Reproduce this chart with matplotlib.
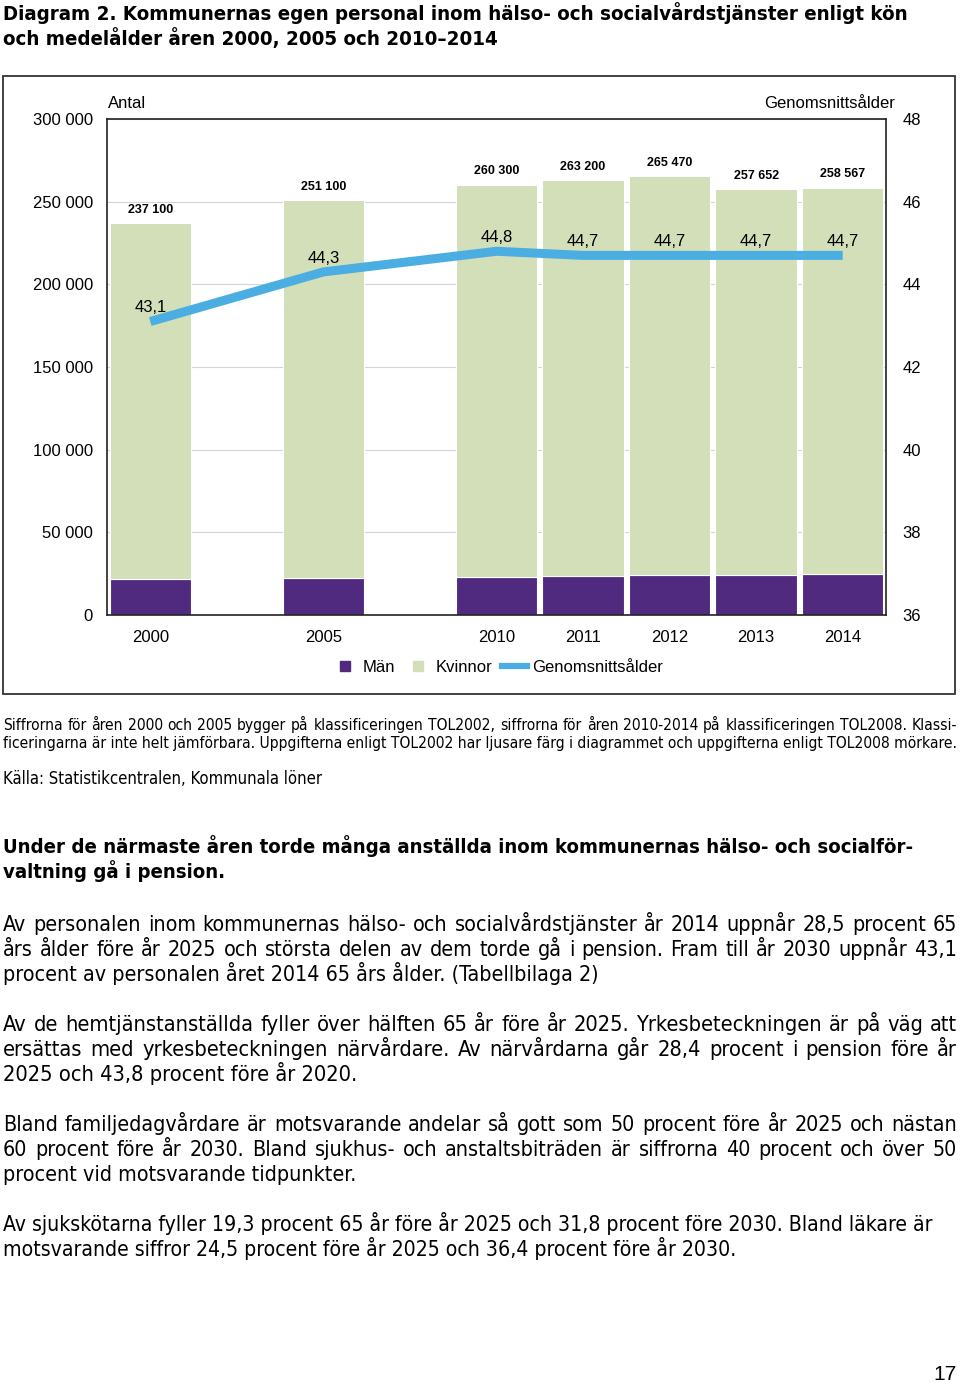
import matplotlib
matplotlib.use('Agg')
import matplotlib.pyplot as plt
from matplotlib import font_manager as fm
from matplotlib.lines import Line2D
from matplotlib.patches import Rectangle
import os

# ---------------- data ----------------
years = ['2000', '2005', '2010', '2011', '2012', '2013', '2014']
totals = [237100, 251100, 260300, 263200, 265470, 257652, 258567]
men = [21800, 22400, 23200, 23400, 24200, 24400, 25000]
avg_age = [43.1, 44.3, 44.8, 44.7, 44.7, 44.7, 44.7]
left_ticks = [0, 50000, 100000, 150000, 200000, 250000, 300000]
right_ticks = [36, 38, 40, 42, 44, 46, 48]
series_names = ['Män', 'Kvinnor', 'Genomsnittsålder']

women = [t - m for t, m in zip(totals, men)]

# category slots: leave an empty slot where years are skipped
pos = []
p = 0
for i, y in enumerate(years):
    if i > 0:
        p += 1 if int(y) - int(years[i - 1]) == 1 else 2
    pos.append(p)

# ---------------- fonts ----------------
def has_font(name):
    try:
        fm.findfont(fm.FontProperties(family=name), fallback_to_default=False)
        return True
    except Exception:
        return False

SANS = 'Liberation Sans' if has_font('Liberation Sans') else 'DejaVu Sans'
plt.rcParams['font.family'] = [SANS, 'DejaVu Sans']

# look for a narrow / condensed face for the page text
all_files = [f.fname for f in fm.fontManager.ttflist]

def find_file(keys_regular, keys_bold):
    reg = bold = None
    for pattern in keys_regular:
        for f in all_files:
            if os.path.basename(f).lower() == pattern.lower():
                reg = f
                break
        if reg:
            break
    for pattern in keys_bold:
        for f in all_files:
            if os.path.basename(f).lower() == pattern.lower():
                bold = f
                break
        if bold:
            break
    return reg, bold

NARROW_REG, NARROW_BOLD = find_file(
    ['LiberationSansNarrow-Regular.ttf', 'DejaVuSansCondensed.ttf'],
    ['LiberationSansNarrow-Bold.ttf', 'DejaVuSansCondensed-Bold.ttf'])

def page_font(size, weight):
    path = NARROW_BOLD if weight == 'bold' else NARROW_REG
    if path:
        return dict(fontproperties=fm.FontProperties(fname=path, size=size))
    return dict(family=[SANS, 'DejaVu Sans'], fontsize=size, fontweight=weight)

PURPLE = '#4F2A7F'
GREEN = '#D2DFB8'
BLUE = '#4BAEE3'

W, H = 960, 1383
fig = plt.figure(figsize=(W / 100, H / 100), dpi=100)

def fx(x):
    return x / W

def fy(y):
    return 1 - y / H

# ---------------- chart ----------------
ax = fig.add_axes([fx(107), fy(615), (886 - 107) / W, (615 - 119) / H])
ax.set_xlim(-0.5, 8.5)
ax.set_ylim(0, 300000)
ax.bar(pos, men, width=0.94, color=PURPLE, edgecolor='white', linewidth=0.8, zorder=2)
ax.bar(pos, women, bottom=men, width=0.94, color=GREEN, edgecolor='white', linewidth=0.8, zorder=2)
ax.set_axisbelow(True)
ax.yaxis.grid(True, color='#d4d4d4', lw=0.8)
ax.set_yticks(left_ticks)
ax.set_yticklabels([f'{v:,}'.replace(',', ' ') for v in left_ticks], fontsize=12)
ax.set_xticks(pos)
ax.set_xticklabels(years, fontsize=12)
ax.tick_params(axis='y', length=0, pad=10)
ax.tick_params(axis='x', length=0, pad=11)
for s in ax.spines.values():
    s.set_color('#222222')
    s.set_linewidth(1.2)

for x, t in zip(pos, totals):
    ax.annotate(f'{t:,}'.replace(',', ' '), (x, t), xytext=(0, 9.5),
                textcoords='offset points', ha='center', va='center',
                fontsize=9, fontweight='bold')

ax2 = ax.twinx()
ax2.set_ylim(36, 48)
ax2.set_yticks(right_ticks)
ax2.set_yticklabels([str(v) for v in right_ticks], fontsize=12)
ax2.tick_params(axis='y', length=0, pad=12)
for s in ax2.spines.values():
    s.set_visible(False)
ax2.plot(pos, avg_age, color=BLUE, lw=6.5, solid_capstyle='butt',
         solid_joinstyle='round', zorder=3)
for x, a in zip(pos, avg_age):
    ax2.annotate(f'{a:.1f}'.replace('.', ','), (x, a), xytext=(0, 10),
                 textcoords='offset points', ha='center', va='center', fontsize=12)

fig.text(fx(108), fy(103), 'Antal', ha='left', va='center', fontsize=12)
fig.text(fx(895), fy(103), 'Genomsnittsålder', ha='right', va='center', fontsize=12)

handles = [Line2D([], [], marker='s', ls='none', markersize=7, color=PURPLE),
           Line2D([], [], marker='s', ls='none', markersize=7, color=GREEN),
           Line2D([], [], color=BLUE, lw=4.5)]
fig.legend(handles, series_names, loc='center', bbox_to_anchor=(fx(498), fy(667)),
           ncol=3, frameon=False, fontsize=12, handlelength=1.5,
           handletextpad=0.3, columnspacing=0.6, borderpad=0)

fig.add_artist(Rectangle((fx(3), fy(694)), (955 - 3) / W, (694 - 76) / H,
                         transform=fig.transFigure, fill=False, ec='#333333', lw=1.3))

# ---------------- text ----------------
renderer = fig.canvas.get_renderer()

def text_width(s, kw):
    t = fig.text(0, 0, s, **kw)
    w = t.get_window_extent(renderer).width
    t.remove()
    return w

def draw_block(lines, y0, dy, size, weight='normal', x0=3, x1=957, max_right=None):
    # lines: list of (text, justify)
    limit = (max_right if max_right else x1) - x0
    kw = page_font(size, weight)
    widest = max(text_width(s, kw) for s, _ in lines)
    if widest > limit:
        kw = page_font(size * limit / widest * 0.995, weight)
    for i, (s, just) in enumerate(lines):
        y = y0 + i * dy
        if not just:
            fig.text(fx(x0), fy(y), s, ha='left', va='baseline', **kw)
            continue
        words = s.split(' ')
        widths = [text_width(w, kw) for w in words]
        gap = (x1 - x0 - sum(widths)) / (len(words) - 1)
        x = x0
        for w, wd in zip(words, widths):
            fig.text(fx(x), fy(y), w, ha='left', va='baseline', **kw)
            x += wd + gap

draw_block([('Diagram 2. Kommunernas egen personal inom hälso- och socialvårdstjänster enligt kön', False),
            ('och medelålder åren 2000, 2005 och 2010–2014', False)], 20, 25, 16, 'bold', max_right=915)

draw_block([('Siffrorna för åren 2000 och 2005 bygger på klassificeringen TOL2002, siffrorna för åren 2010-2014 på klassificeringen TOL2008. Klassi-', True),
            ('ficeringarna är inte helt jämförbara. Uppgifterna enligt TOL2002 har ljusare färg i diagrammet och uppgifterna enligt TOL2008 mörkare.', False)],
           730, 18, 12)
draw_block([('Källa: Statistikcentralen, Kommunala löner', False)], 784, 18, 12)

draw_block([('Under de närmaste åren torde många anställda inom kommunernas hälso- och socialför-', False),
            ('valtning gå i pension.', False)], 853, 25, 16, 'bold', max_right=924)

draw_block([('Av personalen inom kommunernas hälso- och socialvårdstjänster år 2014 uppnår 28,5 procent 65', True),
            ('års ålder före år 2025 och största delen av dem torde gå i pension. Fram till år 2030 uppnår 43,1', True),
            ('procent av personalen året 2014 65 års ålder. (Tabellbilaga 2)', False)], 931, 25, 16)
draw_block([('Av de hemtjänstanställda fyller över hälften 65 år före år 2025. Yrkesbeteckningen är på väg att', True),
            ('ersättas med yrkesbeteckningen närvårdare. Av närvårdarna går 28,4 procent i pension före år', True),
            ('2025 och 43,8 procent före år 2020.', False)], 1031, 25, 16)
draw_block([('Bland familjedagvårdare är motsvarande andelar så gott som 50 procent före år 2025 och nästan', True),
            ('60 procent före år 2030. Bland sjukhus- och anstaltsbiträden är siffrorna 40 procent och över 50', True),
            ('procent vid motsvarande tidpunkter.', False)], 1131, 25, 16)
draw_block([('Av sjukskötarna fyller 19,3 procent 65 år före år 2025 och 31,8 procent före 2030. Bland läkare är', False),
            ('motsvarande siffror 24,5 procent före år 2025 och 36,4 procent före år 2030.', False)], 1231, 25, 16,
           max_right=942)

fig.text(fx(957), fy(1380), '17', ha='right', va='baseline', fontsize=15)

fig.savefig('out.png', dpi=100)
